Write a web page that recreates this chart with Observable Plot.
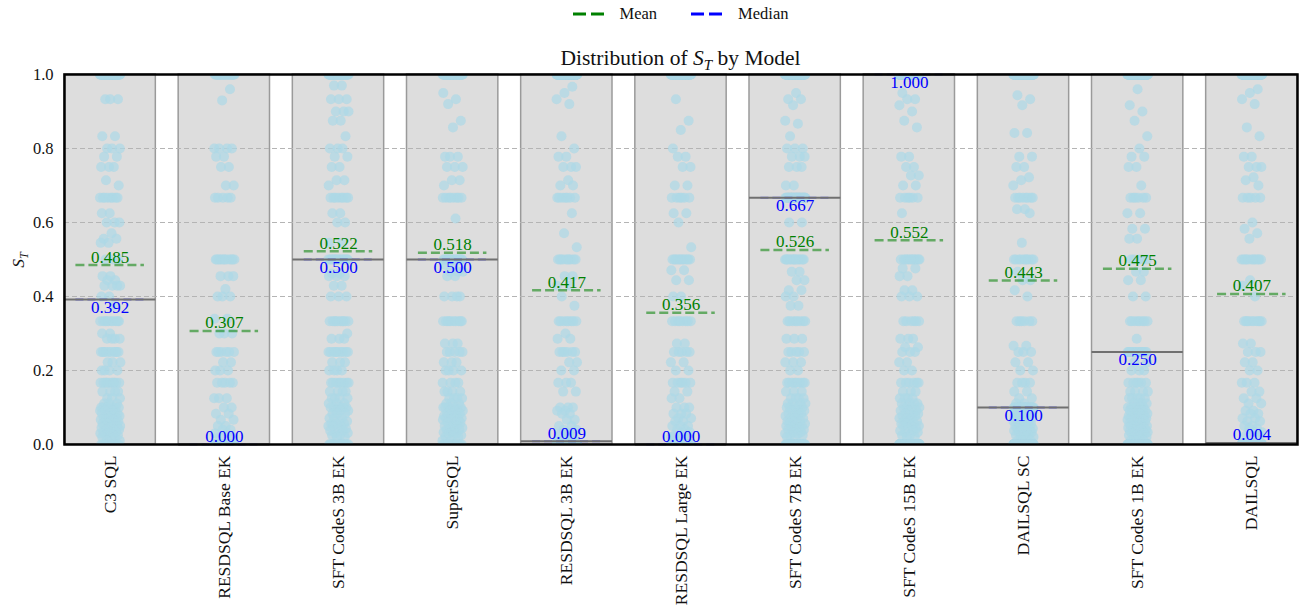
<!DOCTYPE html>
<html>
<head>
<meta charset="utf-8">
<script src="https://cdn.jsdelivr.net/npm/d3@7"></script>
<script src="https://cdn.jsdelivr.net/npm/@observablehq/plot@0.6"></script>
<style>
  body { margin: 0; background: #fff; font-family: "Liberation Serif", serif; color: #111; }
  #wrap { position: relative; width: 1306px; height: 612px; overflow: hidden; background: #fff; }
  #chart { position: absolute; left: 0; top: 0; }
  .overlay { position: absolute; z-index: 2; }
  #legend { left: 64px; width: 1233px; top: 0; height: 27px; display: flex; justify-content: center; align-items: center; font-size: 16.5px; }
  .item { display: flex; align-items: center; }
  .item svg { margin-right: 13px; }
  #title { left: 64px; width: 1233px; top: 47px; text-align: center; font-size: 21.5px; line-height: 22px; }
  sub { font-size: 70%; line-height: 0; vertical-align: -0.3em; }
  #ylabel { left: 3px; top: 250px; width: 30px; height: 20px; line-height: 20px; text-align: center; font-size: 17.5px; transform: rotate(-90deg); }
</style>
</head>
<body>
<div id="wrap">
  <div id="chart"></div>
  <div id="legend" class="overlay">
    <div class="item"><svg width="34" height="6"><line x1="0" y1="3" x2="34" y2="3" stroke="green" stroke-width="3" stroke-dasharray="13,5"></line></svg><span>Mean</span></div>
    <div class="item" style="margin-left:34px"><svg width="34" height="6"><line x1="0" y1="3" x2="34" y2="3" stroke="blue" stroke-width="3" stroke-dasharray="13,5"></line></svg><span>Median</span></div>
  </div>
  <div id="title" class="overlay">Distribution of <i>S</i><sub><i>T</i></sub> by Model</div>
  <div id="ylabel" class="overlay"><i>S</i><sub><i>T</i></sub></div>
</div>
<script>
// ---- data ----
const models = ["C3 SQL", "RESDSQL Base EK", "SFT CodeS 3B EK", "SuperSQL", "RESDSQL 3B EK",
  "RESDSQL Large EK", "SFT CodeS 7B EK", "SFT CodeS 15B EK", "DAILSQL SC", "SFT CodeS 1B EK", "DAILSQL"];
const meanValues = [0.485, 0.307, 0.522, 0.518, 0.417, 0.356, 0.526, 0.552, 0.443, 0.475, 0.407];
const medianValues = [0.392, 0.000, 0.500, 0.500, 0.009, 0.000, 0.667, 1.000, 0.100, 0.250, 0.004];
const q1Values = [0, 0, 0, 0, 0, 0, 0, 0, 0, 0, 0];
const q3Values = [1, 1, 1, 1, 1, 1, 1, 1, 1, 1, 1];
const yTicks = [0.0, 0.2, 0.4, 0.6, 0.8, 1.0];
const gridTicks = [0.2, 0.4, 0.6, 0.8];

// per-model S_T scores as [value, count]
const c3Sql = [[1,70],[0.933,3],[0.833,2],[0.8,3],[0.778,2],[0.75,3],[0.714,1],[0.7,1],[0.667,8],[0.625,2],[0.6,3],[0.571,1],[0.556,2],[0.545,2],[0.5,3],[0.455,2],[0.444,2],[0.429,4],[0.4,2],[0.375,1],[0.333,10],[0.3,2],[0.286,4],[0.25,10],[0.222,3],[0.2,4],[0.167,10],[0.143,4],[0.125,3],[0.111,3],[0.1,8],[0.091,3],[0.083,4],[0.077,3],[0.071,3],[0.067,3],[0.063,2],[0.056,3],[0.05,4],[0.045,2],[0.04,3],[0.033,3],[0.03,2],[0.025,3],[0.02,3],[0.01,2],[0,10]];
const resdsqlBaseEk = [[1,38],[0.96,1],[0.93,1],[0.8,4],[0.778,2],[0.75,2],[0.7,2],[0.667,5],[0.5,12],[0.455,3],[0.42,1],[0.4,3],[0.34,2],[0.3,3],[0.25,6],[0.222,2],[0.2,3],[0.167,5],[0.125,3],[0.1,2],[0.083,2],[0.067,2],[0.05,2],[0.04,2],[0.03,2],[0.02,2],[0,108]];
const sftCodes3bEk = [[1,60],[0.97,2],[0.933,3],[0.9,3],[0.875,2],[0.833,1],[0.8,3],[0.778,2],[0.75,2],[0.714,2],[0.7,1],[0.667,8],[0.625,2],[0.6,2],[0.545,2],[0.5,15],[0.462,2],[0.455,3],[0.429,2],[0.4,3],[0.333,10],[0.3,1],[0.286,3],[0.25,10],[0.222,3],[0.2,4],[0.167,8],[0.143,4],[0.125,4],[0.111,3],[0.1,6],[0.091,3],[0.083,3],[0.071,3],[0.063,2],[0.056,3],[0.05,3],[0.043,2],[0.037,2],[0.031,2],[0.025,2],[0.02,2],[0,15]];
const superSql = [[1,65],[0.95,1],[0.933,1],[0.92,1],[0.875,1],[0.857,1],[0.778,3],[0.75,3],[0.714,2],[0.7,1],[0.667,8],[0.611,1],[0.5,15],[0.485,2],[0.467,3],[0.455,2],[0.4,4],[0.333,10],[0.273,3],[0.25,5],[0.222,3],[0.2,4],[0.167,4],[0.143,4],[0.125,4],[0.111,3],[0.1,6],[0.091,4],[0.083,3],[0.077,3],[0.071,3],[0.067,3],[0.059,3],[0.05,3],[0.045,2],[0.04,3],[0.033,2],[0.029,2],[0.025,2],[0.02,2],[0.01,2],[0,15]];
const resdsql3bEk = [[1,200],[0.967,1],[0.95,1],[0.933,1],[0.92,1],[0.833,1],[0.8,1],[0.778,2],[0.75,3],[0.714,1],[0.7,2],[0.667,7],[0.625,1],[0.571,1],[0.533,1],[0.5,10],[0.455,2],[0.429,2],[0.4,1],[0.375,1],[0.333,8],[0.3,1],[0.286,2],[0.25,6],[0.222,2],[0.2,2],[0.167,3],[0.143,2],[0.1,3],[0.091,2],[0.083,2],[0.067,2],[0.05,2],[0.04,2],[0.03,2],[0.02,2],[0.009,10],[0,270]];
const resdsqlLargeEk = [[1,100],[0.933,1],[0.875,1],[0.85,1],[0.8,1],[0.778,2],[0.75,2],[0.7,2],[0.667,6],[0.625,2],[0.6,1],[0.533,1],[0.5,12],[0.471,2],[0.444,2],[0.4,2],[0.333,8],[0.273,2],[0.25,5],[0.222,2],[0.2,2],[0.167,6],[0.143,2],[0.125,2],[0.1,3],[0.083,3],[0.071,2],[0.063,2],[0.05,3],[0.04,2],[0.033,2],[0.025,2],[0.02,2],[0.01,2],[0,186]];
const sftCodes7bEk = [[1,100],[0.95,1],[0.933,2],[0.917,1],[0.875,1],[0.867,1],[0.833,1],[0.8,3],[0.778,3],[0.75,3],[0.7,2],[0.667,30],[0.6,2],[0.5,15],[0.467,2],[0.444,2],[0.417,2],[0.4,2],[0.375,2],[0.333,8],[0.286,3],[0.25,5],[0.222,3],[0.2,2],[0.167,8],[0.143,3],[0.125,4],[0.111,4],[0.1,5],[0.091,3],[0.083,3],[0.077,3],[0.071,3],[0.063,3],[0.056,3],[0.05,3],[0.045,2],[0.04,3],[0.033,2],[0.029,2],[0.025,2],[0.02,2],[0,40]];
const sftCodes15bEk = [[1,340],[0.95,1],[0.933,2],[0.917,1],[0.9,1],[0.875,1],[0.857,1],[0.778,2],[0.75,2],[0.727,2],[0.7,2],[0.667,6],[0.625,1],[0.5,12],[0.476,2],[0.455,2],[0.417,2],[0.4,3],[0.333,6],[0.286,3],[0.263,2],[0.25,3],[0.222,2],[0.2,2],[0.167,6],[0.143,3],[0.125,4],[0.111,4],[0.1,4],[0.091,3],[0.083,3],[0.077,3],[0.071,3],[0.063,3],[0.056,3],[0.05,3],[0.043,2],[0.037,2],[0.033,2],[0.025,2],[0.02,2],[0,230]];
const dailsqlSc = [[1,160],[0.944,1],[0.933,1],[0.917,1],[0.842,2],[0.778,2],[0.75,2],[0.722,1],[0.714,1],[0.7,1],[0.667,8],[0.636,2],[0.625,1],[0.545,1],[0.5,10],[0.467,1],[0.444,2],[0.417,1],[0.4,1],[0.333,6],[0.267,2],[0.25,3],[0.222,2],[0.2,2],[0.167,4],[0.143,2],[0.125,2],[0.111,2],[0.1,20],[0.091,4],[0.083,4],[0.077,3],[0.071,3],[0.063,3],[0.056,3],[0.05,4],[0.043,3],[0.037,3],[0.033,3],[0.025,3],[0.02,3],[0.01,3],[0,180]];
const sftCodes1bEk = [[1,160],[0.96,1],[0.917,1],[0.9,1],[0.875,1],[0.833,1],[0.8,1],[0.778,2],[0.75,2],[0.7,1],[0.667,6],[0.625,2],[0.583,2],[0.556,2],[0.5,5],[0.467,2],[0.444,2],[0.4,2],[0.333,8],[0.286,1],[0.25,15],[0.222,2],[0.2,3],[0.167,6],[0.143,4],[0.125,5],[0.111,4],[0.1,6],[0.091,4],[0.083,4],[0.077,4],[0.071,4],[0.067,3],[0.063,3],[0.056,3],[0.05,4],[0.045,3],[0.04,3],[0.036,3],[0.033,3],[0.029,2],[0.025,3],[0.02,3],[0.01,3],[0,120]];
const dailsql = [[1,160],[0.96,1],[0.95,1],[0.933,1],[0.92,1],[0.857,1],[0.833,1],[0.778,2],[0.75,3],[0.722,1],[0.714,1],[0.7,1],[0.667,5],[0.6,1],[0.583,1],[0.571,1],[0.556,1],[0.5,12],[0.444,1],[0.429,1],[0.4,1],[0.333,10],[0.273,2],[0.25,3],[0.222,2],[0.2,2],[0.167,3],[0.143,2],[0.125,2],[0.111,2],[0.091,2],[0.083,2],[0.071,2],[0.063,2],[0.05,2],[0.043,2],[0.033,2],[0.025,2],[0.004,20],[0,220]];
const scoreCounts = [c3Sql, resdsqlBaseEk, sftCodes3bEk, superSql, resdsql3bEk, resdsqlLargeEk,
  sftCodes7bEk, sftCodes15bEk, dailsqlSc, sftCodes1bEk, dailsql];

// ---- tables built from the arrays ----
const stats = models.map((m, i) => ({i, model: m, mean: meanValues[i], median: medianValues[i], q1: q1Values[i], q3: q3Values[i]}));
const points = [];
scoreCounts.forEach((pairs, i) => {
  let k = 0;
  for (const [v, n] of pairs) for (let c = 0; c < n; c++) points.push({i, value: v, k: k++});
});

const half = 0.4;      // box half width (category units)
const lineHalf = 0.3;  // mean / median dashed line half width
const jitter = 0.09;   // strip jitter half width
const jx = d => d.i + jitter * (2 * ((d.k * 0.6180339887 + d.i * 0.29) % 1) - 1);
const f3 = d3.format(".3f");
const font = '"Liberation Serif", serif';

const chart = Plot.plot({
  width: 1306,
  height: 612,
  marginTop: 74,
  marginBottom: 168,
  marginLeft: 64,
  marginRight: 9,
  style: {fontFamily: font, fontSize: "16px", color: "#111", background: "transparent", overflow: "visible"},
  x: {domain: [-half, models.length - 1 + half]},
  y: {domain: [0, 1]},
  marks: [
    Plot.rect(stats, {x1: d => d.i - half, x2: d => d.i + half, y1: "q1", y2: "q3", fill: "#dddddd", stroke: "#9a9a9a", strokeWidth: 1.5}),
    Plot.gridY(gridTicks, {stroke: "#b4b4b4", strokeOpacity: 1, strokeWidth: 1, strokeDasharray: "5,3"}),
    Plot.dot(points, {x: jx, y: "value", r: 5, fill: "#add8e6", fillOpacity: 0.72, clip: true}),
    Plot.ruleY(stats, {x1: d => d.i - lineHalf, x2: d => d.i + lineHalf, y: "median", stroke: "blue", strokeOpacity: 0.5, strokeWidth: 2, strokeDasharray: "8,4"}),
    Plot.ruleY(stats, {x1: d => d.i - half, x2: d => d.i + half, y: "median", stroke: "#707070", strokeWidth: 2}),
    Plot.ruleY(stats, {x1: d => d.i - lineHalf, x2: d => d.i + lineHalf, y: "mean", stroke: "green", strokeOpacity: 0.55, strokeWidth: 2.5, strokeDasharray: "9,4"}),
    Plot.text(stats, {x: "i", y: "mean", text: d => f3(d.mean), dy: -8, fill: "green", fontSize: 17}),
    Plot.text(stats, {filter: d => d.median >= 0.05, x: "i", y: "median", text: d => f3(d.median), dy: 8, fill: "blue", fontSize: 17}),
    Plot.text(stats, {filter: d => d.median < 0.05, x: "i", y: "median", text: d => f3(d.median), dy: -8, fill: "blue", fontSize: 17}),
    Plot.axisY({ticks: yTicks, tickFormat: d3.format(".1f"), tickSize: 0, tickPadding: 11, label: null, fontSize: 16.5}),
    Plot.axisX({ticks: d3.range(models.length), tickFormat: i => models[i], tickRotate: -90, tickSize: 0, tickPadding: 11, label: null, fontSize: 17.5}),
    Plot.frame({stroke: "black", strokeWidth: 2.5})
  ]
});
document.getElementById("chart").appendChild(chart);
</script>
</body>
</html>
